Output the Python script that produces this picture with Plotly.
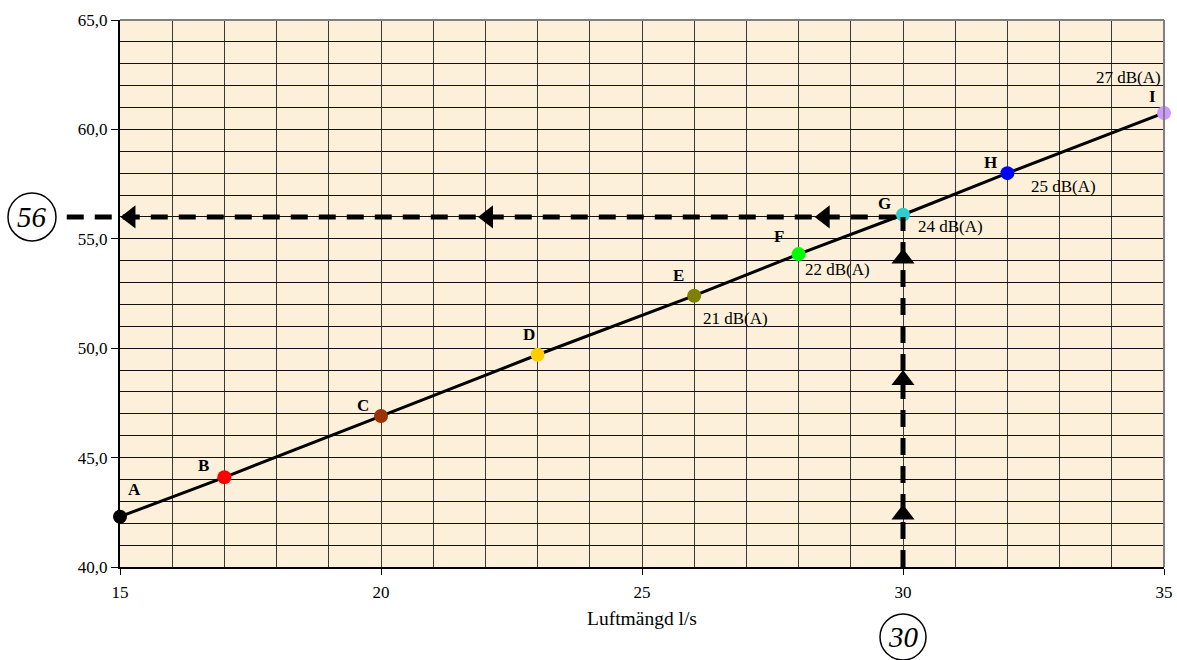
import plotly.graph_objects as go

# ---- data ----
points = ["A", "B", "C", "D", "E", "F", "G", "H", "I"]
airflow = [15, 17, 20, 23, 26, 28, 30, 32, 35]
pressure = [42.3, 44.1, 46.9, 49.7, 52.4, 54.3, 56.1, 58.0, 60.75]
sound = ["", "", "", "", "21 dB(A)", "22 dB(A)", "24 dB(A)", "25 dB(A)", "27 dB(A)"]
colors = ["#000000", "#FF0000", "#993300", "#FFCC00", "#808000",
          "#00FF00", "#33CCCC", "#0000FF", "#CC99FF"]

x_ticks = [15, 20, 25, 30, 35]
y_ticks = [40, 45, 50, 55, 60, 65]
y_ticktext = ["40,0", "45,0", "50,0", "55,0", "60,0", "65,0"]

read_x = 30      # reading example: airflow
read_y = 56      # reading example: resulting value
h_arrow_x = [15.2, 22.05, 28.5]
v_arrow_y = [42.4, 48.55, 54.1]

X_MIN, X_MAX = 15, 35
Y_MIN, Y_MAX = 40, 65

SERIF = "Liberation Serif, Times New Roman, serif"

fig = go.Figure()

# main curve
fig.add_trace(go.Scatter(
    x=airflow, y=pressure, mode="lines",
    line=dict(color="black", width=3), hoverinfo="skip", showlegend=False,
))
# coloured points
fig.add_trace(go.Scatter(
    x=airflow, y=pressure, mode="markers",
    marker=dict(color=colors, size=14, line=dict(width=0)),
    cliponaxis=False, showlegend=False,
))

# dashed guide lines
dash = "17px,11px"
fig.add_shape(type="line", xref="paper", yref="y",
              x0=-0.051, x1=(read_x - X_MIN) / (X_MAX - X_MIN),
              y0=read_y, y1=read_y,
              line=dict(color="black", width=5, dash=dash), layer="above")
fig.add_shape(type="line", xref="x", yref="y",
              x0=read_x, x1=read_x, y0=Y_MIN, y1=read_y,
              line=dict(color="black", width=5, dash=dash), layer="above")

# arrow heads
fig.add_trace(go.Scatter(
    x=h_arrow_x, y=[read_y] * len(h_arrow_x), mode="markers",
    marker=dict(symbol="triangle-left", size=20, color="black"),
    cliponaxis=False, showlegend=False, hoverinfo="skip",
))
fig.add_trace(go.Scatter(
    x=[read_x] * len(v_arrow_y), y=v_arrow_y, mode="markers",
    marker=dict(symbol="triangle-up", size=20, color="black"),
    cliponaxis=False, showlegend=False, hoverinfo="skip",
))

# point letter labels
letter_offsets = [(14, 27), (-21, 12), (-18, 11), (-9, 20), (-16, 20),
                  (-20, 18), (-19, 11), (-17, 11), (-12, 16)]
for x, y, t, (dx, dy) in zip(airflow, pressure, points, letter_offsets):
    fig.add_annotation(x=x, y=y, text=f"<b>{t}</b>", showarrow=False,
                       xshift=dx, yshift=dy,
                       font=dict(family=SERIF, size=17, color="black"))

# sound level labels
sound_offsets = [(0, 0)] * 4 + [(41, -23), (39, -15), (47, -12), (56, -13), (-36, 35)]
for x, y, t, (dx, dy) in zip(airflow, pressure, sound, sound_offsets):
    if t:
        fig.add_annotation(x=x, y=y, text=t, showarrow=False,
                           xshift=dx, yshift=dy,
                           font=dict(family=SERIF, size=17, color="black"))

# circled reading values
fig.add_shape(type="circle", xref="paper", yref="y",
              xsizemode="pixel", ysizemode="pixel",
              xanchor=-0.0843, yanchor=read_y,
              x0=-24, x1=24, y0=-24, y1=24,
              line=dict(color="black", width=1.5), layer="above")
fig.add_annotation(xref="paper", yref="y", x=-0.0843, y=read_y,
                   text=f"<i>{read_y}</i>", showarrow=False,
                   xanchor="center", yanchor="middle",
                   font=dict(family=SERIF, size=29, color="black"))
fig.add_shape(type="circle", xref="x", yref="paper",
              xsizemode="pixel", ysizemode="pixel",
              xanchor=read_x, yanchor=-0.128,
              x0=-23, x1=23, y0=-23, y1=23,
              line=dict(color="black", width=1.5), layer="above")
fig.add_annotation(xref="x", yref="paper", x=read_x, y=-0.128,
                   text=f"<i>{read_x}</i>", showarrow=False,
                   xanchor="center", yanchor="middle",
                   font=dict(family=SERIF, size=29, color="black"))

# gray top/right frame
fig.add_shape(type="line", xref="paper", yref="paper", x0=0, x1=1, y0=1, y1=1,
              line=dict(color="#808080", width=2), layer="above")
fig.add_shape(type="line", xref="paper", yref="paper", x0=1, x1=1, y0=0, y1=1,
              line=dict(color="#808080", width=2), layer="above")

fig.update_xaxes(
    range=[X_MIN, X_MAX], tickvals=x_ticks, ticktext=[str(v) for v in x_ticks],
    automargin=False,
    showgrid=True, gridcolor="#3a3a3a", gridwidth=1,
    minor=dict(dtick=1, showgrid=True, gridcolor="#3a3a3a", gridwidth=1),
    showline=True, linecolor="black", linewidth=2,
    ticks="outside", ticklen=6, tickcolor="black", ticklabelstandoff=3,
    tickfont=dict(family=SERIF, size=17, color="black"),
    title=dict(text="Luftmängd l/s", font=dict(family=SERIF, size=19.5, color="black"),
               standoff=10),
    zeroline=False,
)
fig.update_yaxes(
    range=[Y_MIN, Y_MAX], tickvals=y_ticks, ticktext=y_ticktext,
    automargin=False,
    showgrid=True, gridcolor="#111111", gridwidth=1,
    minor=dict(dtick=1, showgrid=True, gridcolor="#111111", gridwidth=1),
    showline=True, linecolor="black", linewidth=2,
    ticks="outside", ticklen=7, tickcolor="black",
    tickfont=dict(family=SERIF, size=17, color="black"),
    zeroline=False,
)

fig.update_layout(
    width=1177, height=660,
    margin=dict(l=120, r=13, t=20, b=93),
    plot_bgcolor="#FCF0DA", paper_bgcolor="white",
    showlegend=False,
)

# remove the default 8px page margin so the figure fills the window exactly
fig.write_html("out.html", config={"displayModeBar": False},
               post_script="document.body.style.margin='0';")
